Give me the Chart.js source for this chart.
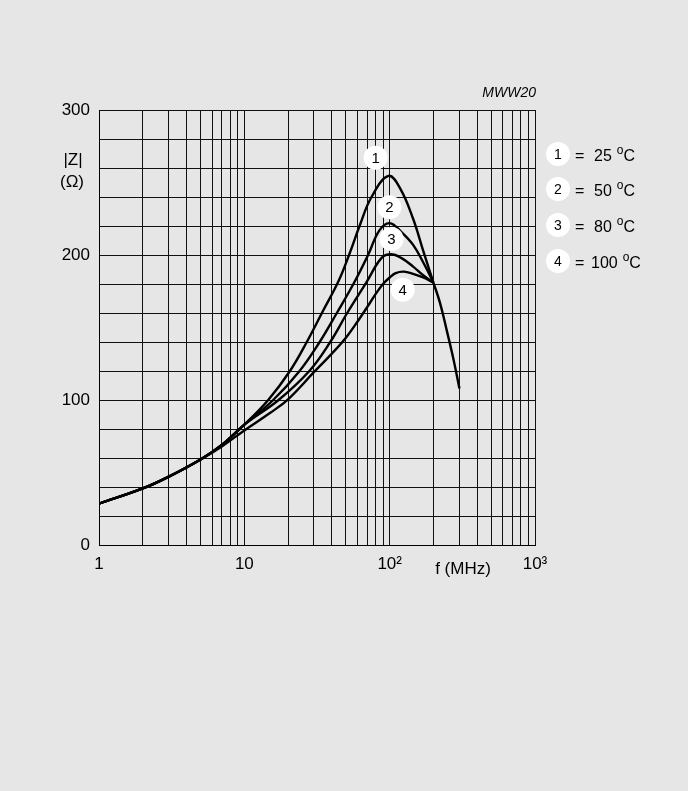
<!DOCTYPE html>
<html>
<head>
<meta charset="utf-8">
<script src="https://cdn.jsdelivr.net/npm/chart.js@4.4.0/dist/chart.umd.min.js"></script>
<style>
  html, body { margin: 0; padding: 0; background: #e6e6e6; }
  #wrap { position: relative; width: 688px; height: 791px; }
</style>
</head>
<body>
<div id="wrap"><canvas id="chart"></canvas></div>
<script>
// |Z| versus frequency, one curve per temperature
const freq25 = [1, 2, 3, 5, 7, 10, 14.6, 20.6, 26.9, 34.6, 44.5, 53, 62.6, 75, 98, 118, 145, 170, 200];
const z25    = [28.5, 39, 47, 59, 69, 83, 100, 120, 140, 161, 182, 201, 221, 240, 254.5, 246, 225, 203, 181];

const freq50 = [1, 2, 3, 5, 7, 10, 15.8, 24, 33, 43.3, 57, 71, 85, 100, 120, 145, 170, 200];
const z50    = [28.5, 39, 47, 59, 69, 83, 100, 120, 140, 160, 181, 200, 217, 222, 216, 207, 195, 181];

const freq80 = [1, 2, 3, 5, 7, 10, 17.2, 28, 39, 51, 69, 88, 102, 120, 145, 170, 200];
const z80    = [28.5, 39, 47, 59, 69, 83, 100, 120, 140, 160, 181, 198, 200.5, 198, 192, 186, 181];

const freq100 = [1, 2, 3, 5, 7, 10, 15, 20, 30, 40, 50, 60, 70, 80, 90, 100, 110, 125, 145, 170, 200];
const z100    = [28.5, 39, 47, 59, 68, 79, 91, 100.5, 119, 132, 143, 154, 164, 173, 180, 184.5, 187.5, 188.5, 187, 184.5, 181];

// common falling part above 200 MHz
const freqTail = [200, 222, 247, 275, 302];
const zTail    = [181, 167, 148, 128, 108];

const curveNumbers = ['1', '2', '3', '4'];
const temperatures = ['25', '50', '80', '100'];
// where the numbered markers sit on the graph (f, |Z|)
const markerFreq = [80, 99.5, 103, 123];
const markerZ    = [267, 233, 211, 176];

const xGrid = [1, 2, 3, 4, 5, 6, 7, 8, 9, 10, 20, 30, 40, 50, 60, 70, 80, 90,
               100, 200, 300, 400, 500, 600, 700, 800, 900, 1000];
const xTickLabels = { 1: '1', 10: '10', 100: '10²', 1000: '10³' };
const yLabelStep = 100;

const FONT = '"Liberation Sans", Arial, sans-serif';
const BG = '#e6e6e6';

function pts(xs, ys) {
  return xs.map((x, i) => ({ x: x, y: ys[i] }));
}

function curve(xs, ys) {
  return {
    data: pts(xs, ys),
    borderColor: '#000',
    borderWidth: 2.4,
    pointRadius: 0,
    fill: false,
    tension: 0.4
  };
}

const decor = {
  id: 'decor',
  beforeDraw(chart) {
    const ctx = chart.ctx;
    ctx.save();
    ctx.fillStyle = BG;
    ctx.fillRect(0, 0, chart.width, chart.height);
    ctx.restore();
  },
  afterDatasetsDraw(chart) {
    const ctx = chart.ctx;
    const xs = chart.scales.x, ys = chart.scales.y;
    ctx.save();
    ctx.fillStyle = '#000';

    // numbered markers on the curves
    markerFreq.forEach((f, i) => {
      const px = xs.getPixelForValue(f), py = ys.getPixelForValue(markerZ[i]);
      ctx.fillStyle = '#fff';
      ctx.beginPath();
      ctx.arc(px, py, 12, 0, Math.PI * 2);
      ctx.fill();
      ctx.fillStyle = '#000';
      ctx.font = '15px ' + FONT;
      ctx.textAlign = 'center';
      ctx.textBaseline = 'middle';
      ctx.fillText(curveNumbers[i], px, py + 1);
    });

    // key on the right
    const keyY = [154, 189, 225, 261];
    keyY.forEach((cy, i) => {
      ctx.fillStyle = '#fff';
      ctx.beginPath();
      ctx.arc(558, cy, 12, 0, Math.PI * 2);
      ctx.fill();
      ctx.fillStyle = '#000';
      ctx.textBaseline = 'middle';
      ctx.textAlign = 'center';
      ctx.font = '14px ' + FONT;
      ctx.fillText(curveNumbers[i], 558, cy + 1);

      ctx.textAlign = 'left';
      ctx.textBaseline = 'alphabetic';
      ctx.font = '16px ' + FONT;
      const base = cy + 6.5;
      ctx.fillText('=', 575, base);
      const t = temperatures[i];
      const tx = t.length > 2 ? 591 : 594;
      ctx.fillText(t, tx, base);
      let x = tx + ctx.measureText(t).width + 5;
      ctx.font = '12px ' + FONT;
      ctx.fillText('o', x, base - 7);
      x += ctx.measureText('o').width;
      ctx.font = '16px ' + FONT;
      ctx.fillText('C', x, base);
    });

    // axis captions
    ctx.textAlign = 'center';
    ctx.textBaseline = 'middle';
    ctx.font = '17px ' + FONT;
    ctx.fillText('|Z|', 73, 160);
    ctx.fillText('(Ω)', 72, 182);
    ctx.fillText('f (MHz)', 463, 569);

    ctx.textAlign = 'right';
    ctx.textBaseline = 'alphabetic';
    ctx.font = 'italic 14px ' + FONT;
    ctx.fillText('MWW20', 536, 97);
    ctx.restore();
  }
};

new Chart(document.getElementById('chart').getContext('2d'), {
  type: 'line',
  data: {
    datasets: [
      curve(freq25, z25),
      curve(freq50, z50),
      curve(freq80, z80),
      curve(freq100, z100),
      curve(freqTail, zTail)
    ]
  },
  options: {
    responsive: true,
    maintainAspectRatio: false,
    animation: false,
    layout: { padding: { top: 110, right: 153, left: 0, bottom: 0 } },
    plugins: {
      legend: { display: false },
      tooltip: { enabled: false }
    },
    scales: {
      x: {
        type: 'logarithmic',
        min: 1,
        max: 1000,
        afterBuildTicks: s => { s.ticks = xGrid.map(v => ({ value: v })); },
        afterFit: s => { s.height = 246; },
        ticks: {
          autoSkip: false,
          maxRotation: 0,
          padding: 9,
          color: '#000',
          font: { family: FONT, size: 17 },
          callback: v => xTickLabels[v] || ''
        },
        grid: { color: '#111', lineWidth: 1, drawTicks: false },
        border: { color: '#000', width: 1 }
      },
      y: {
        type: 'linear',
        min: 0,
        max: 300,
        afterFit: s => { s.width = 99; },
        ticks: {
          stepSize: 20,
          padding: 9,
          color: '#000',
          font: { family: FONT, size: 17 },
          callback: v => (v % yLabelStep === 0 ? String(v) : '')
        },
        grid: { color: '#111', lineWidth: 1, drawTicks: false },
        border: { color: '#000', width: 1 }
      }
    }
  },
  plugins: [decor]
});
</script>
</body>
</html>
